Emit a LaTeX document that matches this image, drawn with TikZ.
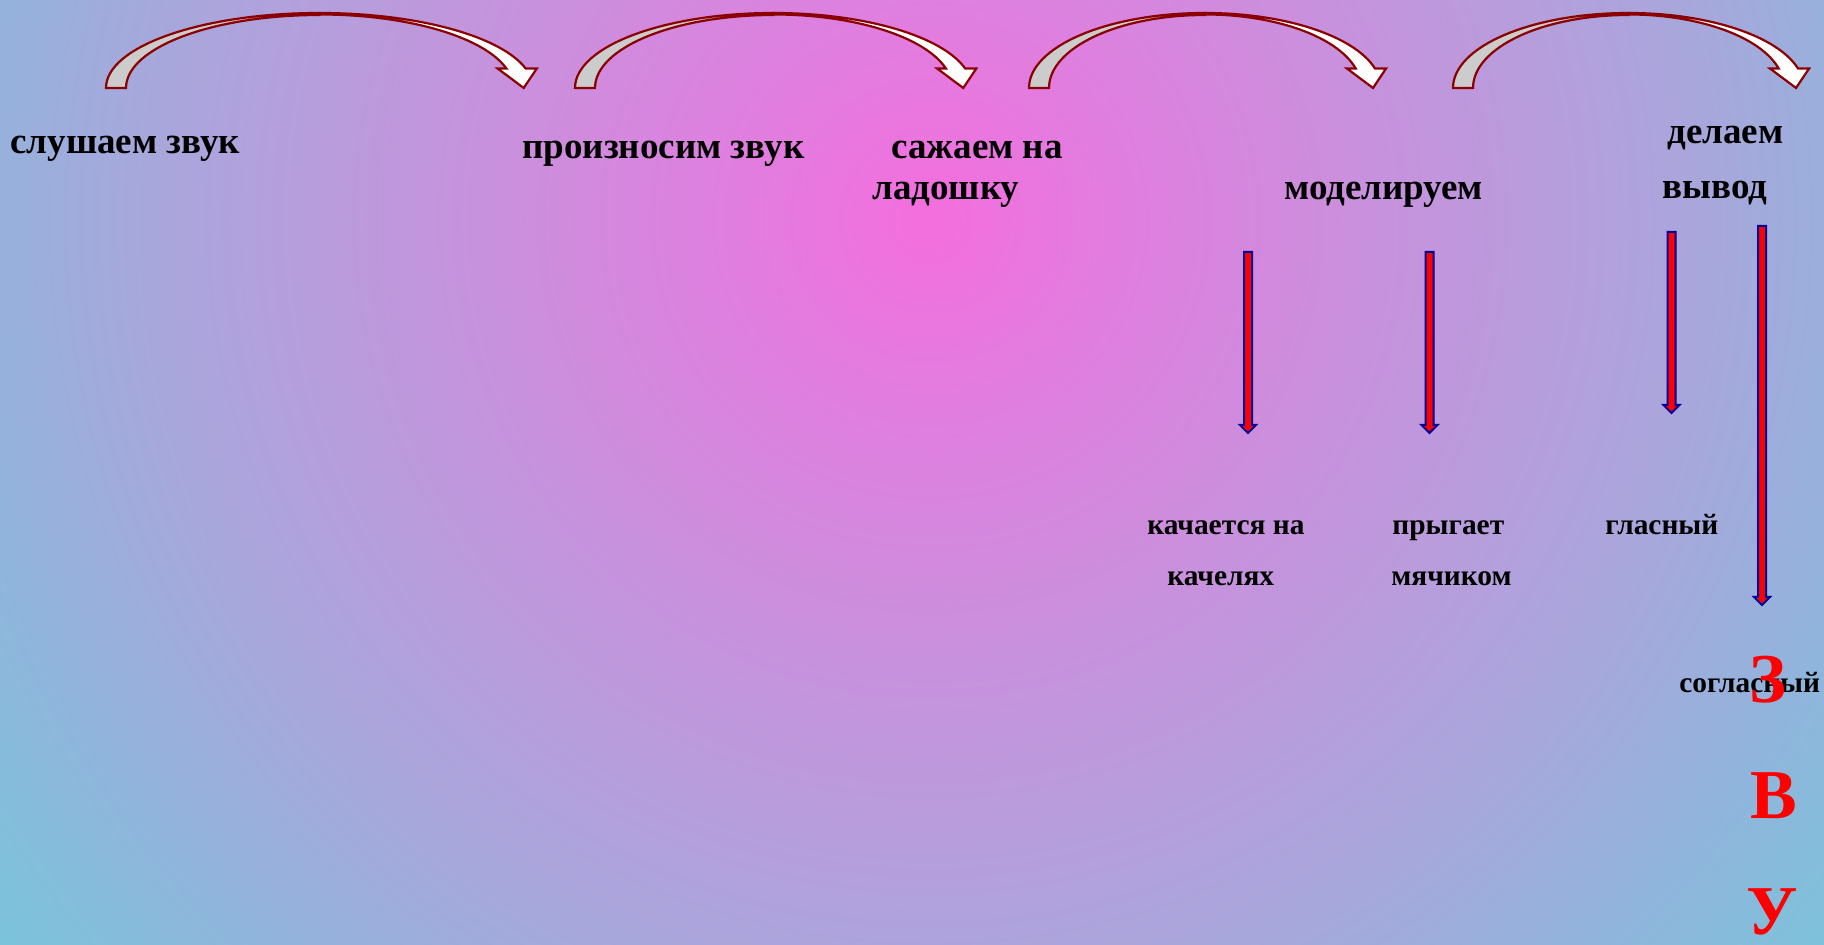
\documentclass[tikz,border=0pt]{standalone}
\usepackage{fontspec}
\setmainfont{Liberation Serif}
\usepackage{tikz}

\definecolor{bgc0}{HTML}{F46EDE}
\definecolor{bgc1}{HTML}{E07EDF}
\definecolor{bgc2}{HTML}{CC8EDD}
\definecolor{bgc3}{HTML}{B99CDC}
\definecolor{bgc4}{HTML}{A6A8DC}
\definecolor{bgc5}{HTML}{94B2DC}
\definecolor{bgc6}{HTML}{7AC4DA}
\definecolor{arrowred}{HTML}{8B0000}
\definecolor{backgray}{HTML}{CCCCCC}
\definecolor{downblue}{HTML}{000099}
\pgfdeclareradialshading{slidebg}{\pgfpoint{0bp}{0bp}}{color(0bp)=(bgc0); color(4.24bp)=(bgc1);
  color(8.47bp)=(bgc2); color(12.71bp)=(bgc3); color(16.95bp)=(bgc4); color(20.13bp)=(bgc5);
  color(25bp)=(bgc6); color(50bp)=(bgc6)}

\begin{document}
\begin{tikzpicture}[x=0.5pt, y=-0.5pt,
  lbl/.style={font=\fontsize{18.5}{22}\selectfont\bfseries, anchor=base west, inner sep=0pt},
  sublbl/.style={font=\fontsize{14.7}{18}\selectfont\bfseries, anchor=base west, inner sep=0pt},
  redlbl/.style={font=\fontsize{35}{40}\selectfont\bfseries, text=red, anchor=base, inner sep=0pt},
  arcarrow/.style={draw=arrowred, line width=1.1pt},
  down/.style={draw=downblue, fill=red, line width=1pt},
]
\useasboundingbox (0,0) rectangle (1824,945);
\begin{scope}
  \clip (0,0) rectangle (1824,945);
  \shade[shading=slidebg] (930,220) circle (1180);
\end{scope}

% curved arrows between the steps
\foreach \xa/\xb in {106/525, 575/964, 1029/1373, 1453/1796} {
  \pgfmathsetmacro\ra{(\xb-\xa+8)/2}
  \pgfmathsetmacro\ri{\ra-20}
  \pgfmathsetmacro\cx{\xa+\ra}
  \filldraw[arcarrow, fill=backgray] (\xa,88) arc[start angle=180, end angle=270, x radius=\ra, y radius=75]
    -- (\cx,15) arc[start angle=270, end angle=180, x radius=\ri, y radius=73] -- cycle;
  \filldraw[arcarrow, fill=white] (\cx,13) arc[start angle=270, end angle=345, x radius=\ra, y radius=75]
    -- ++(11,0) -- ++(-13,19.4) -- ++(-26,-19.4) -- ++(8.7,0)
    arc[start angle=345, end angle=270, x radius=\ri, y radius=73] -- cycle;
}

% down arrows
\foreach \x/\ya/\yb in {1248/252/433, 1429.5/252/433, 1671.5/232/413, 1762/226/605}
  \filldraw[down] (\x-4,\ya) -- (\x+4,\ya) -- (\x+4,\yb-8) -- (\x+8,\yb-8)
    -- (\x,\yb) -- (\x-8,\yb-8) -- (\x-4,\yb-8) -- cycle;

\node[lbl] (listen) at (10,154) {слушаем звук};
\node[lbl] (say) at (522,159) {произносим звук};
\node[lbl] (palm1) at (891,159) {сажаем на};
\node[lbl] (palm2) at (872,200) {ладошку};
\node[lbl] (model) at (1284,200) {моделируем};
\node[lbl] (concl1) at (1667,144) {делаем};
\node[lbl] (concl2) at (1662,199) {вывод};

\node[sublbl] (swing1) at (1147,535) {качается на};
\node[sublbl] (swing2) at (1167,586) {качелях};
\node[sublbl] (jump1) at (1392,535) {прыгает};
\node[sublbl] (jump2) at (1391,586) {мячиком};
\node[sublbl] (vowel) at (1605,535) {гласный};
\node[sublbl] (cons) at (1679,692) {согласный};

\node[redlbl] (ze) at (1768,702) {З};
\node[redlbl] (ve) at (1774,818) {В};
\node[redlbl] (u) at (1772,934) {У};
\end{tikzpicture}
\end{document}
